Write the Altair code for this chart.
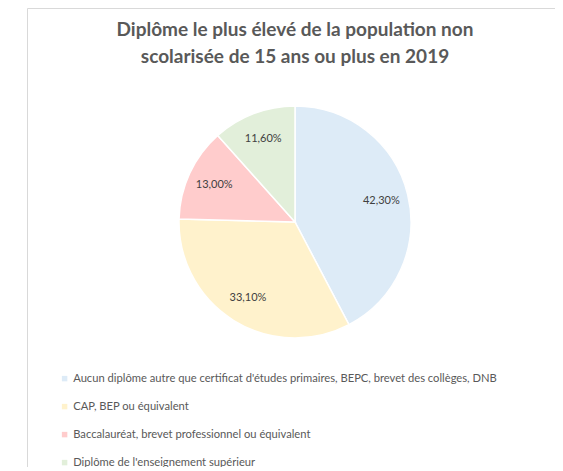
import altair as alt
import pandas as pd

categories = [
    "Aucun diplôme autre que certificat d'études primaires, BEPC, brevet des collèges, DNB",
    "CAP, BEP ou équivalent",
    "Baccalauréat, brevet professionnel ou équivalent",
    "Diplôme de l'enseignement supérieur",
]
values = [42.3, 33.1, 13.0, 11.6]
colors = ["#DDEBF7", "#FFF2CC", "#FFCCCC", "#E2EFDA"]
title_lines = [
    "Diplôme le plus élevé de la population non",
    "scolarisée de 15 ans ou plus en 2019",
]

labels = [f"{v:.2f}%".replace(".", ",") for v in values]
df = pd.DataFrame({
    "cat": categories,
    "value": values,
    "label": labels,
    "order": list(range(len(categories))),
})

CX, CY, R = 287, 214, 116
FONT = "Lato"

frame = alt.Chart(pd.DataFrame({"a": [0]})).mark_rect(
    fill="white", stroke="#d9d9d9", strokeWidth=1
).encode(
    x=alt.value(19.5), x2=alt.value(554.5), y=alt.value(0.5), y2=alt.value(480)
)

pie = alt.Chart(df).mark_arc(
    outerRadius=R, stroke="white", strokeWidth=1.5
).encode(
    theta=alt.Theta("value:Q", stack=True),
    color=alt.Color(
        "cat:N",
        scale=alt.Scale(domain=categories, range=colors),
        sort=categories,
        legend=alt.Legend(
            title=None,
            orient="none",
            legendX=51,
            legendY=365,
            symbolType="square",
            symbolSize=30,
            symbolStrokeWidth=0,
            labelFontSize=11.2,
            labelFont=FONT,
            labelColor="#595959",
            labelLimit=700,
            labelOffset=3,
            rowPadding=16,
        ),
    ),
    order=alt.Order("order:Q"),
    x=alt.value(CX),
    y=alt.value(CY),
)

text = alt.Chart(df).mark_text(
    radius=89, fontSize=11, font=FONT, color="#404040"
).encode(
    theta=alt.Theta("value:Q", stack=True),
    order=alt.Order("order:Q"),
    text="label:N",
    x=alt.value(CX),
    y=alt.value(CY),
)

tdf = pd.DataFrame({"t": title_lines, "i": [0, 1]})
title1 = alt.Chart(tdf.iloc[[0]]).mark_text(
    fontSize=19, font=FONT, fontWeight="bold", color="#595959", align="center", baseline="middle"
).encode(text="t:N", x=alt.value(CX), y=alt.value(22))
title2 = alt.Chart(tdf.iloc[[1]]).mark_text(
    fontSize=19, font=FONT, fontWeight="bold", color="#595959", align="center", baseline="middle"
).encode(text="t:N", x=alt.value(CX), y=alt.value(49))

chart = alt.layer(frame, pie, text, title1, title2).properties(
    width=547, height=459, autosize=alt.AutoSizeParams(type="none"), padding=0,
    background="white",
).configure_view(stroke=None)

chart.save("out.html", embed_options={"renderer": "svg", "actions": False})
